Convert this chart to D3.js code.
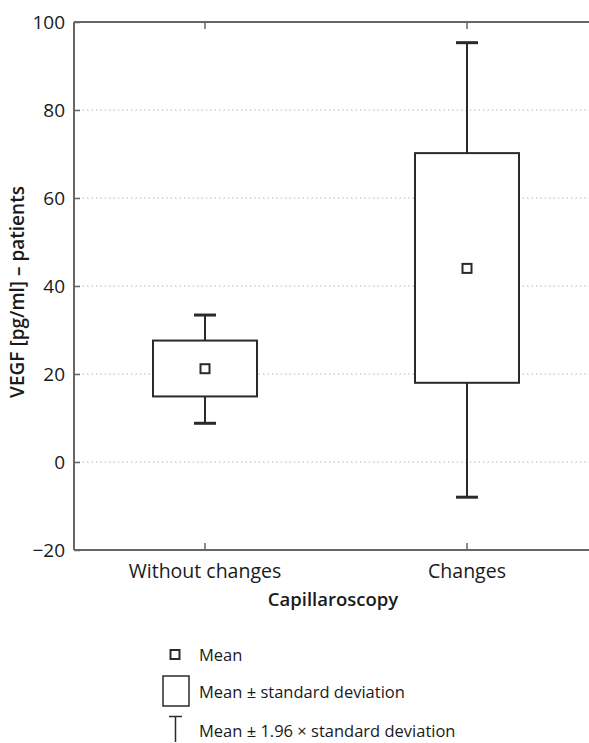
<!DOCTYPE html>
<html>
<head>
<meta charset="utf-8">
<script src="https://cdn.jsdelivr.net/npm/d3@7"></script>
<style>
  body { margin: 0; background: #fff; overflow: hidden; }
  text { font-family: "Open Sans", sans-serif; fill: #1a1a1a; }
</style>
</head>
<body>
<div id="chart"></div>
<script>
// Data
const categories = ["Without changes", "Changes"];
const means = [21.2, 44.0];
const sdLow = [14.9, 18.0];
const sdHigh = [27.6, 70.2];
const ciLow = [8.8, -8.0];
const ciHigh = [33.4, 95.3];
const yTicks = [-20, 0, 20, 40, 60, 80, 100];
const gridTicks = [0, 20, 40, 60, 80];
const legendLabels = ["Mean", "Mean ± standard deviation", "Mean ± 1.96 × standard deviation"];

const width = 589, height = 743;
const margin = {top: 22, left: 74};
const plotRight = 598, plotBottom = 550;

const svg = d3.select("#chart").append("svg")
    .attr("width", width)
    .attr("height", height);

const x = d3.scaleBand()
    .domain(categories)
    .range([margin.left, plotRight])
    .padding(0);

const y = d3.scaleLinear()
    .domain([-20, 100])
    .range([plotBottom, margin.top]);

const cx = d => x(d) + x.bandwidth() / 2;
const boxW = 104, capW = 22;
const axisColor = "#666";
const ink = "#2a2a2a";

// Grid
svg.append("g").selectAll("line")
    .data(gridTicks)
    .join("line")
    .attr("x1", margin.left)
    .attr("x2", plotRight)
    .attr("y1", d => y(d))
    .attr("y2", d => y(d))
    .attr("stroke", "#aaa")
    .attr("stroke-width", 1)
    .attr("stroke-dasharray", "1.2,3.2");

// Left axis (ticks inside)
const yAxis = svg.append("g")
    .attr("transform", `translate(${margin.left},0)`)
    .call(d3.axisRight(y).tickValues(yTicks).tickSize(6).tickFormat(d => d < 0 ? "\u2212" + Math.abs(d) : d));
yAxis.select(".domain").remove();
yAxis.selectAll(".tick line").attr("stroke", axisColor).attr("stroke-width", 1.5);
yAxis.selectAll(".tick text")
    .attr("x", -9)
    .attr("text-anchor", "end")
    .attr("font-size", 19);

// Frame lines
svg.append("line").attr("x1", margin.left).attr("x2", margin.left)
    .attr("y1", margin.top).attr("y2", plotBottom)
    .attr("stroke", axisColor).attr("stroke-width", 2);
svg.append("line").attr("x1", margin.left).attr("x2", plotRight)
    .attr("y1", margin.top).attr("y2", margin.top)
    .attr("stroke", axisColor).attr("stroke-width", 2);

// Bottom axis (ticks inside)
const xAxis = svg.append("g")
    .attr("transform", `translate(0,${plotBottom})`)
    .call(d3.axisTop(x).tickSize(7).tickSizeOuter(0));
xAxis.select(".domain").remove();
xAxis.selectAll(".tick line").attr("stroke", axisColor).attr("stroke-width", 1.5);
xAxis.selectAll(".tick text")
    .attr("y", 28)
    .attr("font-size", 19.5);
svg.append("line").attr("x1", margin.left).attr("x2", plotRight)
    .attr("y1", plotBottom).attr("y2", plotBottom)
    .attr("stroke", axisColor).attr("stroke-width", 2);

// Top ticks
svg.append("g").selectAll("line")
    .data(categories)
    .join("line")
    .attr("x1", cx).attr("x2", cx)
    .attr("y1", margin.top).attr("y2", margin.top + 7)
    .attr("stroke", axisColor).attr("stroke-width", 1.5);

// Boxes
const groups = svg.append("g").selectAll("g")
    .data(categories)
    .join("g");

groups.append("line")
    .attr("x1", cx).attr("x2", cx)
    .attr("y1", (d, i) => y(ciHigh[i]))
    .attr("y2", (d, i) => y(ciLow[i]))
    .attr("stroke", ink).attr("stroke-width", 2);

groups.selectAll("line.cap")
    .data((d, i) => [ciLow[i], ciHigh[i]].map(v => ({cat: d, v})))
    .join("line")
    .attr("class", "cap")
    .attr("x1", d => cx(d.cat) - capW / 2)
    .attr("x2", d => cx(d.cat) + capW / 2)
    .attr("y1", d => y(d.v))
    .attr("y2", d => y(d.v))
    .attr("stroke", ink).attr("stroke-width", 3);

groups.append("rect")
    .attr("x", d => cx(d) - boxW / 2)
    .attr("width", boxW)
    .attr("y", (d, i) => y(sdHigh[i]))
    .attr("height", (d, i) => y(sdLow[i]) - y(sdHigh[i]))
    .attr("fill", "#fff")
    .attr("stroke", ink).attr("stroke-width", 2);

groups.append("rect")
    .attr("x", d => cx(d) - 4.5)
    .attr("y", (d, i) => y(means[i]) - 4.5)
    .attr("width", 9).attr("height", 9)
    .attr("fill", "#fff")
    .attr("stroke", ink).attr("stroke-width", 2);

// Axis titles
svg.append("text")
    .attr("x", (margin.left + plotRight) / 2 - 3)
    .attr("y", 606)
    .attr("text-anchor", "middle")
    .attr("font-size", 18.5)
    .attr("font-weight", 600)
    .text("Capillaroscopy");

svg.append("text")
    .attr("transform", `translate(24,${(margin.top + plotBottom) / 2 + 6}) rotate(-90)`)
    .attr("text-anchor", "middle")
    .attr("font-size", 19)
    .attr("font-weight", 600)
    .text("VEGF [pg/ml] \u2013 patients");

// Legend
const legend = svg.append("g");
const legY = [655, 692, 731];
legend.append("rect")
    .attr("x", 170.5).attr("y", legY[0] - 5)
    .attr("width", 9).attr("height", 9)
    .attr("fill", "#fff").attr("stroke", ink).attr("stroke-width", 2);
legend.append("rect")
    .attr("x", 163).attr("y", 676)
    .attr("width", 26).attr("height", 30)
    .attr("fill", "#fff").attr("stroke", ink).attr("stroke-width", 1.5);
legend.append("line")
    .attr("x1", 175.5).attr("x2", 175.5).attr("y1", 716).attr("y2", 742)
    .attr("stroke", ink).attr("stroke-width", 1.5);
legend.append("line")
    .attr("x1", 169).attr("x2", 182).attr("y1", 716.5).attr("y2", 716.5)
    .attr("stroke", ink).attr("stroke-width", 1.5);
legend.selectAll("text")
    .data(legendLabels)
    .join("text")
    .attr("x", 199)
    .attr("y", (d, i) => legY[i])
    .attr("dy", "0.35em")
    .attr("font-size", 16.5)
    .text(d => d);
</script>
</body>
</html>
